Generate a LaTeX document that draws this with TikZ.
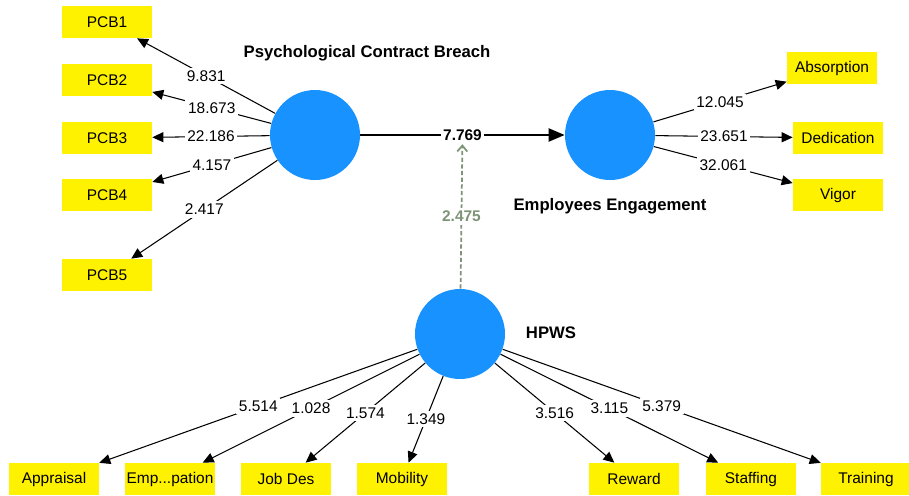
\documentclass[tikz,border=0pt]{standalone}
\usepackage{fontspec}
\setmainfont{Liberation Sans}
\usetikzlibrary{arrows.meta}

\definecolor{lvblue}{RGB}{24,146,255}
\definecolor{modgreen}{RGB}{125,148,118}

\tikzset{
  ind/.style={fill=yellow, minimum width=1.8cm, minimum height=0.64cm,
    inner sep=0pt, font=\fontsize{8.8}{10}\selectfont},
  lv/.style={circle, fill=lvblue, minimum size=1.8cm, inner sep=0pt},
  lvname/.style={font=\fontsize{9.5}{11}\selectfont\bfseries},
  wt/.style={fill=white, inner sep=1.5pt, font=\fontsize{8.8}{10}\selectfont},
  load/.style={-{Triangle[length=0.22cm,width=0.2cm]}, line width=0.6pt},
  mainpath/.style={-{Triangle[length=0.32cm,width=0.26cm]}, line width=1.2pt},
  modpath/.style={-{Straight Barb[length=0.12cm,width=0.2cm]}, modgreen,
    line width=1pt, dash pattern=on 2.4pt off 1.4pt},
}

\def\LX{107}
\def\RX{838}
\def\BY{479}

\begin{document}
\begin{tikzpicture}[x=0.02cm, y=-0.02cm]
    \useasboundingbox (0,0) rectangle (909,495);

    % constructs
    \node[lv] (PCB)  at (315,135) {};
    \node[lv] (EE)   at (610,135) {};
    \node[lv] (HPWS) at (460,334) {};
    \node[lvname] (PCBname)  at (367, 53) {Psychological Contract Breach};
    \node[lvname] (EEname)   at (610,206) {Employees Engagement};
    \node[lvname] (HPWSname) at (551,333) {HPWS};

    % indicators
    \node[ind] (pcb1) at (\LX, 22) {PCB1};
    \node[ind] (pcb2) at (\LX, 80) {PCB2};
    \node[ind] (pcb3) at (\LX,138) {PCB3};
    \node[ind] (pcb4) at (\LX,195) {PCB4};
    \node[ind] (pcb5) at (\LX,275) {PCB5};
    \node[ind] (abs)  at (832, 68) {Absorption};
    \node[ind] (ded)  at (\RX,138) {Dedication};
    \node[ind] (vig)  at (\RX,195) {Vigor};
    \node[ind] (app)  at ( 54,\BY) {Appraisal};
    \node[ind] (emp)  at (170,\BY) {Emp...pation};
    \node[ind] (job)  at (286,\BY) {Job Des};
    \node[ind] (mob)  at (402,\BY) {Mobility};
    \node[ind] (rew)  at (634,\BY) {Reward};
    \node[ind] (sta)  at (751,\BY) {Staffing};
    \node[ind] (tra)  at (866,\BY) {Training};

    % outer loadings
    \draw[load] (PCB) -- node[wt] {9.831}  (pcb1);
    \draw[load] (PCB) -- node[wt] {18.673} (pcb2);
    \draw[load] (PCB) -- node[wt] {22.186} (pcb3);
    \draw[load] (PCB) -- node[wt] {4.157}  (pcb4);
    \draw[load] (PCB) -- node[wt] {2.417}  (pcb5);
    \draw[load] (EE) -- node[wt] {12.045} (abs);
    \draw[load] (EE) -- node[wt] {23.651} (ded);
    \draw[load] (EE) -- node[wt] {32.061} (vig);
    \draw[load] (HPWS) -- node[wt] {5.514} (app);
    \draw[load] (HPWS) -- node[wt] {1.028} (emp);
    \draw[load] (HPWS) -- node[wt] {1.574} (job);
    \draw[load] (HPWS) -- node[wt] {1.349} (mob);
    \draw[load] (HPWS) -- node[wt] {3.516} (rew);
    \draw[load] (HPWS) -- node[wt] {3.115} (sta);
    \draw[load] (HPWS) -- node[wt] {5.379} (tra);

    % structural path and moderation
    \draw[mainpath] (PCB) -- node[wt, font=\fontsize{8.8}{10}\selectfont\bfseries] (b) {7.769} (EE);
    \draw[modpath] (HPWS) -- node[wt, text=modgreen, font=\fontsize{8.8}{10}\selectfont\bfseries] {2.475} (b);
\end{tikzpicture}
\end{document}
